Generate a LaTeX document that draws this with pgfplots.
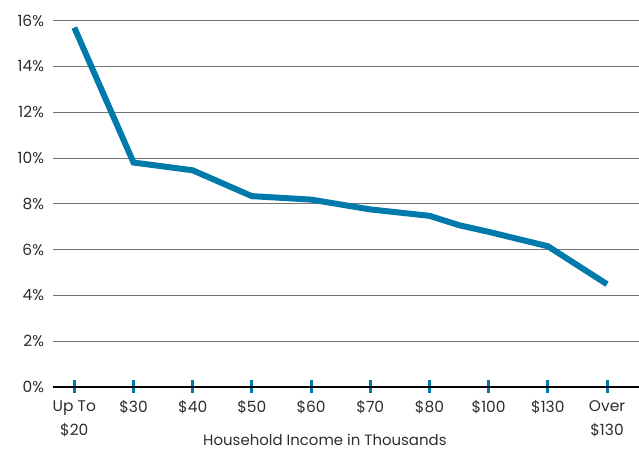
\documentclass[border=0pt]{standalone}
\usepackage{pgfplots}
\pgfplotsset{compat=1.18}
\usepackage{fontspec}
\setmainfont{Poppins}
\definecolor{lineblue}{RGB}{0,122,170}
\definecolor{gridgray}{RGB}{115,115,115}
\definecolor{txt}{RGB}{45,45,45}
\begin{document}
\begin{tikzpicture}
\begin{axis}[
  name=ax,
  scale only axis, width=586bp, height=366bp,
  xmin=-0.36, xmax=9.54, ymin=0, ymax=16,
  axis x line*=bottom, axis y line*=left,
  y axis line style={draw=none},
  x axis line style={black, line width=1.6bp, -},
  xtick={0,...,9},
  xticklabels={{Up To\\\$20},{\$30},{\$40},{\$50},{\$60},{\$70},{\$80},{\$100},{\$130},{Over\\\$130}},
  ytick={0,2,...,16},
  yticklabels={0\%,2\%,4\%,6\%,8\%,10\%,12\%,14\%,16\%},
  tick align=center,
  major tick length=13bp,
  x tick style={lineblue, line width=3bp},
  y tick style={draw=none},
  xticklabel style={align=center, font=\fontsize{15.5}{24}\selectfont, text=txt, yshift=-4bp},
  yticklabel style={font=\fontsize{15.5}{21}\selectfont, text=txt, xshift=1bp},
  ymajorgrids,
  grid style={gridgray, line width=0.8bp},
  xlabel={Household Income in Thousands},
  xlabel style={at={(axis description cs:0.464,0)}, anchor=north, yshift=-44bp, font=\fontsize{15}{18}\selectfont, text=txt},
  clip=false,
]
\addplot[lineblue, line width=6bp, line join=miter] coordinates {
  (0,15.7) (0.5,12.75) (1,9.8) (2,9.46) (3,8.33) (4,8.18) (5,7.75) (6,7.47) (6.5,7.06) (7,6.77) (8,6.14) (9,4.48)
};
\end{axis}
\pgfresetboundingbox
\path ([xshift=-53bp,yshift=-63.3bp]ax.south west) rectangle ([yshift=20.7bp]ax.north east);
\end{tikzpicture}
\end{document}
